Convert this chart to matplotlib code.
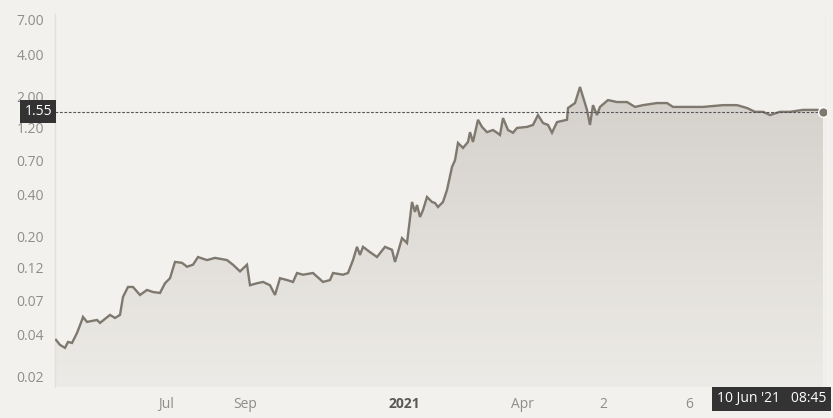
import numpy as np
import matplotlib
matplotlib.use("Agg")
import matplotlib.pyplot as plt
from matplotlib.colors import LinearSegmentedColormap
from matplotlib.transforms import blended_transform_factory

plt.rcParams['font.family'] = ['Open Sans', 'DejaVu Sans']

# data (x = point index along the ordinal time axis)
idx = [0, 4, 9, 12, 16, 21, 26, 27, 31, 41, 44, 54, 59, 64, 67, 72, 77, 84, 91, 97,
       104, 109, 114, 119, 126, 131, 137, 142, 151, 159, 171, 177, 184, 191, 194, 201,
       207, 214, 219, 224, 231, 237, 241, 247, 257, 267, 274, 277, 287, 292, 297, 301,
       304, 307, 314, 321, 329, 336, 339, 342, 346, 351, 356, 359, 361, 364, 367, 371,
       376, 379, 382, 387, 391, 396, 399, 402, 407, 412, 414, 417, 422, 426, 431, 437,
       441, 444, 447, 452, 457, 461, 471, 477, 482, 487, 492, 496, 501, 511, 512, 519,
       524, 527, 531, 534, 537, 541, 544, 552, 561, 571, 579, 587, 601, 611, 617, 631,
       647, 667, 681, 691, 699, 707, 714, 724, 734, 747, 754, 762, 767]
price = [0.0367, 0.0338, 0.0322, 0.0355, 0.0349, 0.0411, 0.0509, 0.0535, 0.0493, 0.0509,
         0.0485, 0.0553, 0.0526, 0.0553, 0.0743, 0.0875, 0.0875, 0.0767, 0.0833, 0.0805,
         0.0793, 0.093, 0.101, 0.132, 0.130, 0.122, 0.126, 0.143, 0.136, 0.141,
         0.136, 0.126, 0.113, 0.126, 0.090, 0.093, 0.095, 0.090, 0.0767, 0.101,
         0.098, 0.095, 0.110, 0.107, 0.110, 0.095, 0.098, 0.110, 0.107, 0.110,
         0.136, 0.169, 0.148, 0.169, 0.155, 0.143, 0.169, 0.161, 0.132, 0.155,
         0.195, 0.180, 0.353, 0.300, 0.336, 0.276, 0.309, 0.383, 0.353, 0.347,
         0.325, 0.353, 0.430, 0.627, 0.70, 0.93, 0.857, 0.945, 1.11, 0.945,
         1.36, 1.21, 1.11, 1.15, 1.10, 1.06, 1.40, 1.15, 1.10, 1.19,
         1.21, 1.25, 1.47, 1.29, 1.25, 1.10, 1.31, 1.36, 1.65, 1.79,
         2.33, 1.98, 1.60, 1.25, 1.73, 1.47, 1.68, 1.88, 1.82, 1.82,
         1.68, 1.73, 1.79, 1.79, 1.68, 1.68, 1.68, 1.73, 1.73, 1.65,
         1.55, 1.55, 1.47, 1.55, 1.55, 1.60, 1.60, 1.60, 1.55]
last_price = 1.55

ytick_vals = [0.02, 0.04, 0.07, 0.12, 0.20, 0.40, 0.70, 1.20, 2.00, 4.00, 7.00]
xtick_pos = [110, 189, 348, 466, 547, 633]
xtick_labels = ['Jul', 'Sep', '2021', 'Apr', '2', '6']
stamp = "10 Jun '21   08:45"

bg = '#f2f1ee'
line_col = '#7f786e'
grey_txt = '#8f8d8a'

fig = plt.figure(figsize=(8.33, 4.18), dpi=100, facecolor=bg)
ax = fig.add_axes([55 / 833, 31 / 418, 771 / 833, 373 / 418], facecolor=bg)
ax.set_yscale('log')
ax.set_xlim(-1, 770)
ax.set_ylim(0.01694, 7.72)
ylo, yhi = ax.get_ylim()

# gradient fill under the line (image in axes coords, clipped to the area)
poly = ax.fill_between(idx, price, ylo, facecolor='none', edgecolor='none')
cmap = LinearSegmentedColormap.from_list('g', ['#edebe7', '#cecac4'])
grad = np.linspace(0, 1, 256).reshape(-1, 1)
im = ax.imshow(grad, cmap=cmap, aspect='auto', origin='lower',
               extent=[0, 1, 0, 1], transform=ax.transAxes, zorder=1)
im.set_clip_path(poly.get_paths()[0], transform=ax.transData)
ax.set_xlim(-1, 770)
ax.set_ylim(ylo, yhi)

ax.plot(idx, price, color=line_col, lw=1.7, zorder=3, solid_joinstyle='miter')
ax.plot(idx[-1], price[-1], 'o', ms=7, color=line_col, mec='white', mew=1, zorder=5)

# last price line + label
ax.axhline(last_price, color='#555555', lw=0.8, ls=(0, (2.5, 1.5)), zorder=4)
tr = blended_transform_factory(ax.transAxes, ax.transData)
ax.text(-0.004, last_price, '1.55', transform=tr, ha='right', va='center',
        fontsize=10, color='white',
        bbox=dict(boxstyle='square,pad=0.3', fc='#333333', ec='none'), zorder=6,
        clip_on=False)

# crosshair edge
ax.axvline(770, color='#d9d6d1', lw=1, zorder=4)

for s in ['top', 'right', 'bottom']:
    ax.spines[s].set_visible(False)
ax.spines['left'].set_color('#e3e0db')
ax.spines['left'].set_linewidth(1)

ax.set_yticks(ytick_vals)
ax.set_yticklabels(['%.2f' % v for v in ytick_vals])
ax.yaxis.set_minor_locator(matplotlib.ticker.NullLocator())
ax.tick_params(axis='y', length=0, pad=8, labelsize=10, labelcolor=grey_txt)

ax.set_xticks(xtick_pos)
ax.set_xticklabels(xtick_labels)
ax.tick_params(axis='x', length=0, pad=7, labelsize=10, labelcolor=grey_txt)
for lab in ax.get_xticklabels():
    if lab.get_text() == '2021':
        lab.set_fontweight('bold')
        lab.set_color('#5a5855')

trx = blended_transform_factory(ax.transData, ax.transAxes)
ax.text(770, -0.012, stamp, transform=trx, ha='right', va='top', fontsize=10,
        color='white', bbox=dict(boxstyle='square,pad=0.35', fc='#333333', ec='none'),
        clip_on=False, zorder=6)

fig.savefig('out.png', dpi=100, facecolor=bg)
